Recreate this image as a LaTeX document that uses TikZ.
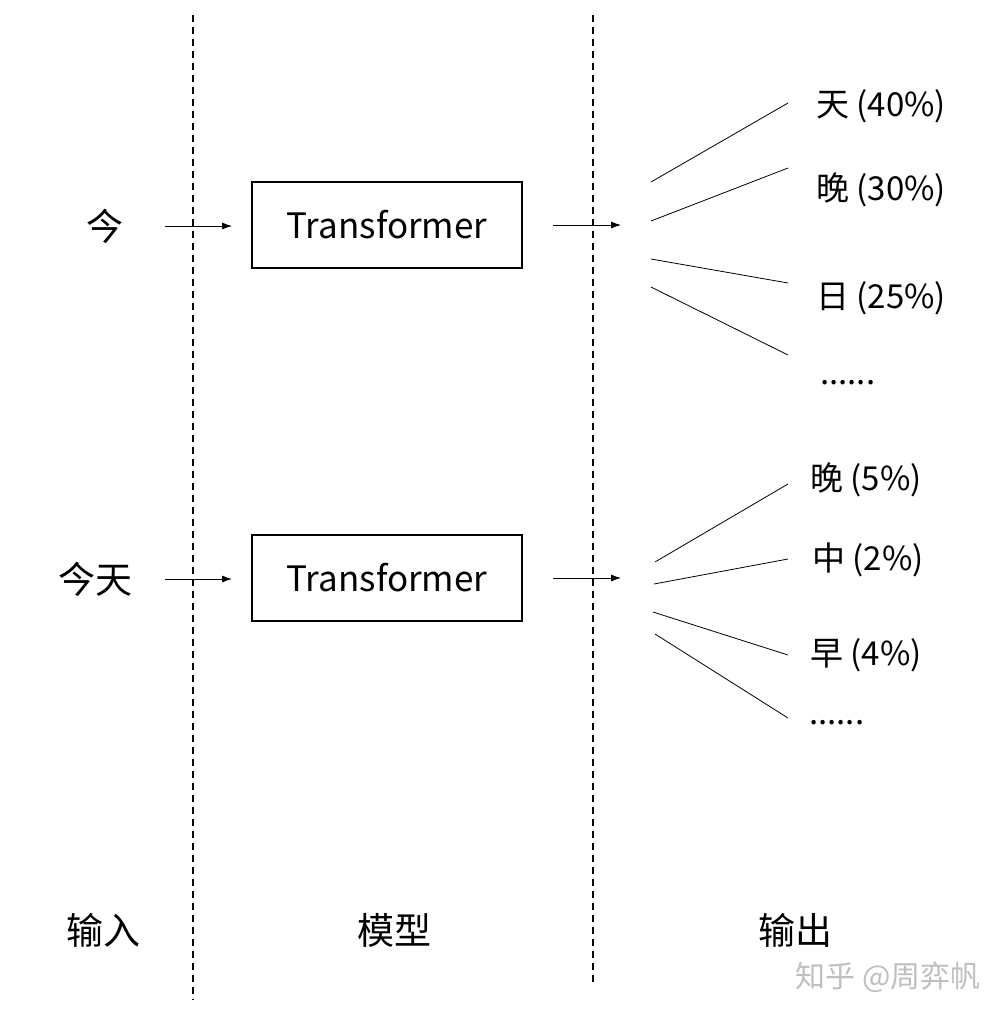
\documentclass[tikz,border=0pt]{standalone}
\usepackage{fontspec}
\setmainfont{Noto Sans CJK SC}
\usetikzlibrary{arrows.meta}
\begin{document}
\begin{tikzpicture}[x=1pt,y=-1pt,
  txt/.style={inner sep=0pt,font=\fontsize{37}{40}\selectfont},
  lbl/.style={inner sep=0pt,anchor=west,font=\fontsize{33}{36}\selectfont},
  model/.style={draw,line width=1.3pt,minimum width=270pt,minimum height=86pt,inner sep=0pt,font=\fontsize{35}{38}\selectfont},
  divider/.style={dashed,line width=1.1pt,dash pattern=on 7pt off 5pt},
  flow/.style={line width=0.8pt,-{Latex[length=10pt,width=7pt]}},
  fan/.style={line width=0.8pt}]
\useasboundingbox (0,0) rectangle (1007,1018);
% dividers
\coordinate (d1t) at (193,15); \coordinate (d1b) at (193,1000);
\coordinate (d2t) at (593,15); \coordinate (d2b) at (593,982);
\draw[divider] (d1t) -- (d1b);
\draw[divider] (d2t) -- (d2b);
% row 1
\node[txt] (in1) at (105,226) {今};
\node[model] (m1) at (387,225) {Transformer};
\coordinate (a1s) at (165,226); \coordinate (a1e) at (232,226);
\coordinate (b1s) at (553,225); \coordinate (b1e) at (621,225);
\draw[flow] (a1s) -- (a1e);
\draw[flow] (b1s) -- (b1e);
\node[lbl] (o11) at (816,106) {天 (40\%)};
\node[lbl] (o12) at (816,190) {晚 (30\%)};
\node[lbl] (o13) at (816,298) {日 (25\%)};
\node[lbl] (o14) at (820,383) {......};
\coordinate (f11) at (651,182); \coordinate (g11) at (788,103);
\coordinate (f12) at (651,221); \coordinate (g12) at (788,168);
\coordinate (f13) at (651,259); \coordinate (g13) at (788,283);
\coordinate (f14) at (651,287); \coordinate (g14) at (788,355);
\draw[fan] (f11) -- (g11);
\draw[fan] (f12) -- (g12);
\draw[fan] (f13) -- (g13);
\draw[fan] (f14) -- (g14);
% row 2
\node[txt] (in2) at (95,579) {今天};
\node[model] (m2) at (387,578) {Transformer};
\coordinate (a2s) at (165,579); \coordinate (a2e) at (232,579);
\coordinate (b2s) at (553,578); \coordinate (b2e) at (621,578);
\draw[flow] (a2s) -- (a2e);
\draw[flow] (b2s) -- (b2e);
\node[lbl] (o21) at (810,480) {晚 (5\%)};
\node[lbl] (o22) at (812,560) {中 (2\%)};
\node[lbl] (o23) at (810,655) {早 (4\%)};
\node[lbl] (o24) at (809,723) {......};
\coordinate (f21) at (655,562); \coordinate (g21) at (788,484);
\coordinate (f22) at (654,584); \coordinate (g22) at (788,559);
\coordinate (f23) at (653,612); \coordinate (g23) at (788,655);
\coordinate (f24) at (655,634); \coordinate (g24) at (788,718);
\draw[fan] (f21) -- (g21);
\draw[fan] (f22) -- (g22);
\draw[fan] (f23) -- (g23);
\draw[fan] (f24) -- (g24);
% column titles
\node[txt] (c1) at (103,930) {输入};
\node[txt] (c2) at (394,930) {模型};
\node[txt] (c3) at (795,930) {输出};
% watermark
\node[inner sep=0pt,text=black!25,font=\fontsize{30}{33}\selectfont] (wm) at (888,977) {知乎 @周弈帆};
\end{tikzpicture}
\end{document}
